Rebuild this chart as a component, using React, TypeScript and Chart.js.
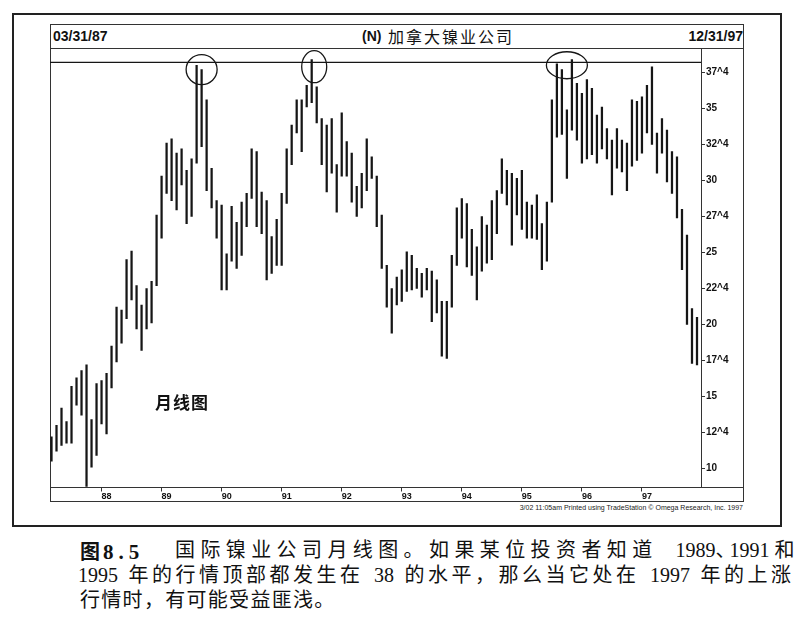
import React, { useEffect, useRef } from "react";
import { Chart, registerables } from "chart.js";

Chart.register(...registerables);

// ---- categories: monthly bars, 03/1987 .. 12/1997 ----
const firstYear = 1987;
const firstMonth = 3;
const barCount = 130;
const months: string[] = Array.from({ length: barCount }, (_, i) => {
  const m0 = firstMonth - 1 + i;
  const y = firstYear + Math.floor(m0 / 12);
  const m = (m0 % 12) + 1;
  return `${y}-${String(m).padStart(2, "0")}`;
});

// ---- series: monthly high / low ----
const barHigh: number[] = [
  12.2, 13.0, 14.2, 13.25, 15.7, 16.3, 16.8, 17.2, 13.4, 15.9,
  16.1, 16.6, 18.5, 21.2, 21.0, 24.5, 25.1, 22.7, 21.35, 22.5,
  23.0, 27.6, 30.3, 32.6, 32.9, 31.9, 32.2, 30.7, 31.5, 38.0,
  37.7, 35.6, 30.85, 28.6, 28.3, 24.9, 28.2, 27.1, 28.5, 29.1,
  32.2, 32.0, 29.2, 28.6, 26.1, 27.3, 29.1, 32.2, 33.85, 35.6,
  35.6, 36.6, 38.4, 36.5, 34.3, 33.85, 34.3, 31.1, 34.7, 32.7,
  31.9, 29.6, 30.5, 32.9, 31.65, 30.3, 27.6, 24.1, 22.5, 23.3,
  23.8, 25.05, 24.8, 23.9, 23.55, 23.9, 23.7, 23.1, 21.6, 21.6,
  24.8, 28.1, 28.75, 28.4, 26.6, 25.4, 27.5, 26.9, 28.6, 29.3,
  31.5, 30.7, 30.5, 30.15, 30.7, 28.5, 28.3, 29.0, 27.0, 28.5,
  35.6, 38.1, 37.7, 34.9, 38.4, 36.75, 36.05, 37.0, 36.4, 34.55,
  35.1, 33.6, 32.8, 33.6, 32.8, 32.6, 35.6, 35.5, 35.8, 36.6,
  37.9, 33.3, 34.3, 33.5, 32.0, 31.65, 28.0, 26.2, 21.1, 20.5,
];
const barLow: number[] = [
  10.5, 11.2, 11.6, 11.75, 11.75, 14.4, 13.7, 8.75, 10.1, 10.9,
  13.1, 12.4, 15.6, 17.4, 18.7, 20.4, 21.7, 19.7, 18.2, 19.7,
  20.1, 22.7, 26.0, 29.1, 28.6, 27.95, 29.7, 27.0, 27.5, 31.2,
  32.35, 29.3, 28.1, 26.0, 22.4, 22.4, 24.4, 23.9, 24.8, 26.8,
  28.75, 26.8, 26.3, 23.1, 23.55, 24.1, 24.1, 28.4, 31.1, 33.3,
  32.0, 35.1, 35.4, 34.0, 31.1, 29.2, 30.5, 27.8, 30.3, 30.3,
  28.5, 27.5, 28.1, 29.3, 30.15, 26.8, 23.9, 21.2, 19.4, 21.35,
  21.6, 22.3, 22.4, 22.5, 21.9, 22.4, 20.2, 20.8, 17.8, 17.65,
  21.2, 24.1, 26.0, 24.0, 23.4, 21.7, 23.7, 24.25, 24.5, 26.3,
  29.1, 28.3, 25.5, 27.6, 26.6, 26.0, 26.0, 25.9, 23.8, 24.4,
  28.5, 33.0, 33.2, 30.15, 33.5, 32.8, 31.2, 31.5, 31.8, 31.2,
  32.2, 31.5, 29.0, 30.85, 30.6, 29.3, 31.0, 31.4, 31.9, 33.3,
  32.5, 30.5, 31.9, 29.9, 29.1, 27.4, 23.8, 20.0, 17.3, 17.2,
];

// ---- tick labels ----
const yTickValues: number[] = [10, 12.5, 15, 17.5, 20, 22.5, 25, 27.5, 30, 32.5, 35, 37.5];
const yTickLabels: string[] = ["10", "12^4", "15", "17^4", "20", "22^4", "25", "27^4", "30", "32^4", "35", "37^4"];
const yearTickLabels: string[] = ["88", "89", "90", "91", "92", "93", "94", "95", "96", "97"];

// ---- annotations (data units) ----
const resistanceLevel = 38.2;
const peakCircles = [
  { index: 30, price: 37.7 },
  { index: 52.5, price: 37.9 },
  { index: 103, price: 38.0 },
];

// styles
const circleRadii: [number, number][] = [
  [15.5, 15],
  [12.5, 16],
  [20.5, 13.5],
];
const INK = "#161616";
const janIndices = months
  .map((m, i) => (m.endsWith("-01") ? i : -1))
  .filter((i) => i >= 0);

const annotationPlugin = {
  id: "peakAnnotations",
  afterDatasetsDraw(chart: any) {
    const { ctx, chartArea, scales } = chart;
    const xs = scales.x;
    const ys = scales.y;
    ctx.save();
    ctx.strokeStyle = INK;
    ctx.lineWidth = 1.4;
    const ry = ys.getPixelForValue(resistanceLevel);
    ctx.beginPath();
    ctx.moveTo(chartArea.left, ry);
    ctx.lineTo(chartArea.right, ry);
    ctx.stroke();
    ctx.lineWidth = 1.3;
    peakCircles.forEach((c, k) => {
      const [rx, rY] = circleRadii[k];
      ctx.beginPath();
      ctx.ellipse(xs.getPixelForValue(c.index), ys.getPixelForValue(c.price), rx, rY, 0, 0, Math.PI * 2);
      ctx.stroke();
    });
    ctx.restore();
  },
};

const sans = '"Liberation Sans", Arial, sans-serif';
const cjk = '"Noto Sans CJK SC", sans-serif';
const captionFont = '"Liberation Serif", "Noto Sans CJK SC", serif';

export default function App() {
  const ref = useRef<HTMLCanvasElement>(null);

  useEffect(() => {
    const canvas = ref.current;
    if (!canvas) return;
    const chart = new Chart(canvas, {
      type: "bar",
      data: {
        labels: months,
        datasets: [
          {
            data: months.map((_, i) => ({ x: i, y: [barLow[i], barHigh[i]] })) as any,
            backgroundColor: INK,
            borderWidth: 0,
            barThickness: 1.6,
          },
        ],
      },
      options: {
        responsive: false,
        animation: false,
        layout: { padding: 0 },
        plugins: {
          legend: { display: false },
          tooltip: { enabled: false },
          title: { display: false },
        },
        scales: {
          x: {
            type: "linear",
            min: -0.3,
            max: 129.8,
            offset: false,
            afterBuildTicks: (s: any) => {
              s.ticks = janIndices.map((v) => ({ value: v }));
            },
            afterFit: (s: any) => {
              s.height = 14.5;
              s.paddingLeft = 0;
              s.paddingRight = 0;
            },
            grid: {
              drawOnChartArea: false,
              drawTicks: true,
              tickLength: 4,
              color: "#333",
              offset: false,
            },
            border: { display: true, color: "#333", width: 1 },
            ticks: {
              autoSkip: false,
              maxRotation: 0,
              align: "start",
              padding: 0,
              color: "#111",
              font: { family: sans, size: 9, weight: "bold" },
              callback: (_v: any, i: number) => yearTickLabels[i],
            },
          },
          y: {
            type: "linear",
            position: "right",
            min: 8.68,
            max: 39.13,
            afterBuildTicks: (s: any) => {
              s.ticks = yTickValues.map((v) => ({ value: v }));
            },
            afterFit: (s: any) => {
              s.width = 44;
              s.paddingTop = 0;
              s.paddingBottom = 0;
            },
            grid: {
              drawOnChartArea: false,
              drawTicks: true,
              tickLength: 4,
              color: "#333",
            },
            border: { display: true, color: "#333", width: 1 },
            ticks: {
              padding: 1,
              color: "#111",
              font: { family: sans, size: 10, weight: "bold" },
              callback: (_v: any, i: number) => yTickLabels[i],
            },
          },
        },
      } as any,
      plugins: [annotationPlugin],
    });
    return () => chart.destroy();
  }, []);

  const abs = (s: React.CSSProperties): React.CSSProperties => ({ position: "absolute", whiteSpace: "nowrap", ...s });
  const digits: React.CSSProperties = { letterSpacing: 0 };

  return (
    <div style={{ position: "fixed", left: 0, top: 0, width: 802, height: 641, background: "#fff", overflow: "hidden", color: "#111" }}>
      {/* outer frame */}
      <div style={abs({ left: 12, top: 13, width: 770, height: 514, border: "2px solid #222", boxSizing: "border-box" })} />
      {/* inner chart box */}
      <div style={abs({ left: 50, top: 24, width: 694, height: 478, border: "1px solid #333", boxSizing: "border-box" })} />
      <div style={abs({ left: 50, top: 48, width: 694, height: 1, background: "#333" })} />
      <div style={abs({ left: 701, top: 487, width: 43, height: 1, background: "#333" })} />

      {/* title row */}
      <div style={abs({ left: 53, top: 28, lineHeight: "16px", fontFamily: sans, fontWeight: "bold", fontSize: 14 })}>03/31/87</div>
      <div style={abs({ left: 362, top: 28, lineHeight: "16px", fontFamily: sans, fontWeight: "bold", fontSize: 14 })}>(N)</div>
      <div style={abs({ left: 388, top: 27, lineHeight: "18px", fontFamily: cjk, fontSize: 16, letterSpacing: "2px" })}>加拿大镍业公司</div>
      <div style={abs({ right: 59, top: 28, lineHeight: "16px", fontFamily: sans, fontWeight: "bold", fontSize: 14 })}>12/31/97</div>

      <canvas ref={ref} width={695} height={453} style={{ position: "absolute", left: 50, top: 49, width: 695, height: 453 }} />

      <div style={abs({ left: 155, top: 393, lineHeight: "17px", fontFamily: cjk, fontWeight: "bold", fontSize: 17, letterSpacing: "1px" })}>月线图</div>

      <div style={abs({ right: 59, top: 504, lineHeight: "8px", fontFamily: sans, fontSize: 7, color: "#222" })}>
        3/02 11:05am Printed using TradeStation © Omega Research, Inc. 1997
      </div>

      {/* caption */}
      <div style={abs({ left: 80, top: 538, lineHeight: "25px", fontSize: 20, fontWeight: "bold" })}>
        <span style={{ fontFamily: cjk }}>图</span>
        <span style={{ fontFamily: captionFont, fontSize: 21, letterSpacing: "5px", marginLeft: 3 }}>8.5</span>
      </div>
      <div style={abs({ left: 175, top: 538, lineHeight: "25px", fontSize: 20, fontFamily: captionFont, letterSpacing: "5.4px" })} lang="zh">
        国际镍业公司月线图。如果某位投资者知道
        <span style={{ letterSpacing: 0, marginLeft: 18 }}>1989</span>
        <span style={{ letterSpacing: "-6px" }}>、</span>
        <span style={digits}>1991 </span>和
      </div>
      <div style={abs({ left: 78, top: 563, lineHeight: "25px", fontSize: 20, fontFamily: captionFont, letterSpacing: "3.5px", wordSpacing: "2px" })} lang="zh">
        <span style={digits}>1995</span> 年的行情顶部都发生在 <span style={digits}>38</span> 的水平，那么当它处在 <span style={digits}>1997</span> 年的上涨
      </div>
      <div style={abs({ left: 80, top: 588, lineHeight: "25px", fontSize: 20, fontFamily: captionFont, letterSpacing: "1.3px" })} lang="zh">
        行情时，有可能受益匪浅。
      </div>
    </div>
  );
}
